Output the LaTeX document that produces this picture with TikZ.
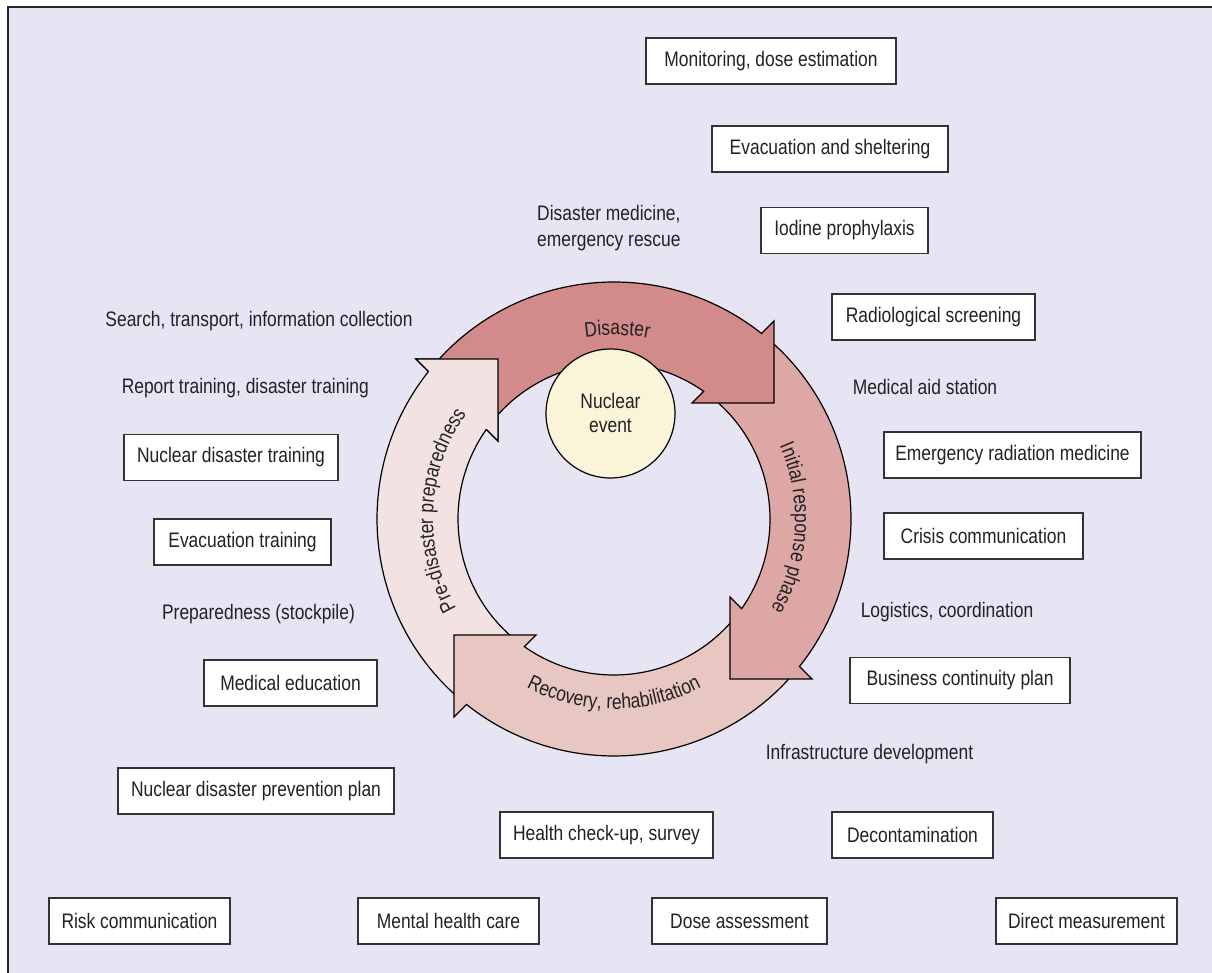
\documentclass[tikz,border=0pt]{standalone}
\usepackage{fontspec}
\setmainfont{Liberation Sans}[FakeStretch=0.83]
\usetikzlibrary{decorations.text}
\definecolor{bg}{HTML}{E7E5F3}
\definecolor{txt}{HTML}{222222}
\definecolor{boxline}{HTML}{333333}
\definecolor{disc}{HTML}{D28B8A}
\definecolor{inic}{HTML}{DCA7A5}
\definecolor{recc}{HTML}{E8C6C1}
\definecolor{prec}{HTML}{F3E2E2}
\definecolor{nucc}{HTML}{FAF4D9}
\newcommand\lbl{\fontsize{21}{26}\selectfont}
\newcommand\arclbl{\fontsize{21}{24}\selectfont\color{txt}}
\tikzset{
  box/.style={draw=boxline, fill=white, line width=1.3pt, minimum height=46pt, inner sep=0pt, font=\lbl, text=txt},
  plain/.style={inner sep=0pt, font=\lbl, text=txt},
  ringarrow/.style={draw=black, line width=1.2pt, line join=miter},
}
\newcommand\phasearrow[2]{%
  \begin{scope}[shift={(614,454)}, rotate=#1]
    \draw[ringarrow, fill=#2] (139.5:237) arc[start angle=139.5, end angle=51.5, radius=237]
      -- (160,198) -- (160,116) -- (78,116) -- (54.9:156)
      arc[start angle=54.9, end angle=142, radius=156] -- cycle;
  \end{scope}}
\newcommand\phasehead[2]{%
  \begin{scope}[shift={(614,454)}, rotate=#1]
    \fill[#2] (51.5:237) -- (160,198) -- (160,116) -- (78,116) -- (54.9:156) -- cycle;
    \draw[ringarrow] (51.5:237) -- (160,198) -- (160,116) -- (78,116) -- (54.9:156);
  \end{scope}}
\begin{document}
\begin{tikzpicture}[x=1pt, y=1pt]
\useasboundingbox (0,0) rectangle (1212,973);
\clip (0,0) rectangle (1212,973);
\fill[white] (0,0) rectangle (1212,973);
\fill[bg] (7.5,-20) rectangle (1240,965.5);
\draw[line width=2pt, black!85] (7.5,-20) -- (7.5,965.5) -- (1240,965.5);

% ring of phase arrows
\phasearrow{90}{prec}
\phasearrow{180}{recc}
\phasearrow{-90}{inic}
\phasearrow{0}{disc}
\phasehead{90}{prec}

% labels along the arrows
\begin{scope}[shift={(614,454)}]
  \path[decorate, decoration={text along path, text align=center, text={|\arclbl|Disaster}}]
    (129:184) arc[start angle=129, end angle=49, radius=184];
  \path[decorate, decoration={text along path, text align=center, text={|\arclbl|Initial response phase}}]
    (47:181) arc[start angle=47, end angle=-53, radius=181];
  \path[decorate, decoration={text along path, text align=center, text={|\arclbl|Pre-disaster preparedness}}]
    (227:181) arc[start angle=227, end angle=127, radius=181];
  \path[decorate, decoration={text along path, text align=center, text={|\arclbl|Recovery, rehabilitation}}]
    (-140:190) arc[start angle=-140, end angle=-40, radius=190];
\end{scope}

% centre
\node[circle, draw=black, line width=1.2pt, fill=nucc, minimum size=129pt, inner sep=0pt,
      align=center, font=\fontsize{21}{24}\selectfont, text=txt] (nuc) at (610.5,559.5) {Nuclear\\event};

% boxes
\node[box, minimum width=250pt] (mon) at (771,912) {Monitoring, dose estimation};
\node[box, minimum width=236pt] (evac) at (830,824) {Evacuation and sheltering};
\node[box, minimum width=167pt] (iod) at (844.5,742.5) {Iodine prophylaxis};
\node[box, minimum width=203pt] (rad) at (933.5,656) {Radiological screening};
\node[box, minimum width=257pt] (erm) at (1012.5,518) {Emergency radiation medicine};
\node[box, minimum width=199pt] (cri) at (983.5,437) {Crisis communication};
\node[box, minimum width=220pt] (bcp) at (960,292.5) {Business continuity plan};
\node[box, minimum width=161pt] (dec) at (912.5,138) {Decontamination};
\node[box, minimum width=213pt] (hcu) at (606.5,138) {Health check-up, survey};
\node[box, minimum width=181pt] (dir) at (1086.5,52) {Direct measurement};
\node[box, minimum width=175pt] (dose) at (739.5,52) {Dose assessment};
\node[box, minimum width=181pt] (mhc) at (448.5,52) {Mental health care};
\node[box, minimum width=181pt] (risk) at (139.5,52) {Risk communication};
\node[box, minimum width=276pt] (ndpp) at (256,182) {Nuclear disaster prevention plan};
\node[box, minimum width=173pt] (med) at (290.5,290) {Medical education};
\node[box, minimum width=177pt] (evt) at (242.5,431) {Evacuation training};
\node[box, minimum width=214pt] (ndt) at (231,515.5) {Nuclear disaster training};

% plain labels
\node[plain, anchor=west, align=left] (dmer) at (537,745) {Disaster medicine,\\emergency rescue};
\node[plain] (stic) at (259,652) {Search, transport, information collection};
\node[plain] (rtdt) at (245.3,585) {Report training, disaster training};
\node[plain] (prep) at (258.5,359) {Preparedness (stockpile)};
\node[plain] (mas) at (925,586) {Medical aid station};
\node[plain] (log) at (947,361) {Logistics, coordination};
\node[plain] (infra) at (869.5,219) {Infrastructure development};
\end{tikzpicture}
\end{document}
